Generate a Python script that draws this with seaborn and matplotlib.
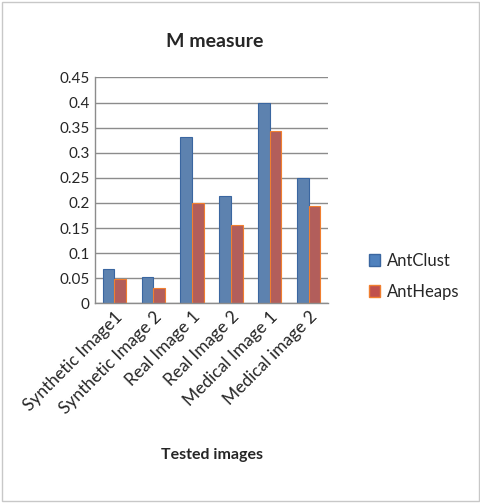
import pandas as pd
import seaborn as sns
import matplotlib.pyplot as plt
from matplotlib.patches import Rectangle

images = ['Synthetic Image1', 'Synthetic Image 2', 'Real Image 1',
          'Real Image 2', 'Medical Image 1', 'Medical image 2']
antclust = [0.068, 0.053, 0.332, 0.213, 0.400, 0.250]
antheaps = [0.049, 0.030, 0.200, 0.157, 0.344, 0.194]
methods = ['AntClust', 'AntHeaps']
yticks = [0, 0.05, 0.1, 0.15, 0.2, 0.25, 0.3, 0.35, 0.4, 0.45]
ytick_labels = ['0', '0.05', '0.1', '0.15', '0.2', '0.25', '0.3', '0.35', '0.4', '0.45']

df = pd.DataFrame({
    'image': images * 2,
    'value': antclust + antheaps,
    'method': [methods[0]] * len(images) + [methods[1]] * len(images),
})

sns.set_style('white')
plt.rcParams['font.family'] = ['Lato', 'DejaVu Sans']

fig = plt.figure(figsize=(4.81, 5.03), dpi=100)
ax = fig.add_axes([0.1975, 0.397, 0.4845, 0.449])

sns.barplot(data=df, x='image', y='value', hue='method', order=images,
            hue_order=methods, palette=['#4F81BD', '#C0504D'], width=0.6,
            ax=ax, legend=False)

edges = {0: '#3A66A0', 1: '#F07F30'}
for i, cont in enumerate(ax.containers):
    for bar in cont:
        bar.set_edgecolor(edges[i])
        bar.set_linewidth(0.8)

ax.set_ylim(0, 0.45)
ax.set_yticks(yticks)
ax.set_yticklabels(ytick_labels, fontsize=11)
ax.yaxis.grid(True, color='#8C8C8C', linewidth=1)
ax.set_axisbelow(True)
ax.tick_params(length=0, pad=4)
ax.set_xticks(range(len(images)))
ax.set_xticklabels(images, rotation=45, ha='right', rotation_mode='anchor', fontsize=12.5)
for s in ['top', 'right']:
    ax.spines[s].set_visible(False)
for s in ['left', 'bottom']:
    ax.spines[s].set_color('#8C8C8C')
    ax.spines[s].set_linewidth(1)
ax.set_xlabel('')
ax.set_ylabel('')

fig.text(0.447, 0.918, 'M measure', ha='center', va='center', fontsize=14, fontweight='bold')
fig.text(0.44, 0.095, 'Tested images', ha='center', va='center', fontsize=11.5, fontweight='bold')

handles = [Rectangle((0, 0), 1, 1, facecolor='#4F81BD', edgecolor=edges[0]),
           Rectangle((0, 0), 1, 1, facecolor='#C0504D', edgecolor=edges[1])]
fig.legend(handles, methods, loc='center left', bbox_to_anchor=(0.735, 0.45),
           frameon=False, fontsize=12, handlelength=0.7, handleheight=0.7,
           labelspacing=0.9, handletextpad=0.4)

fig.patches.append(Rectangle((0.004, 0.004), 0.992, 0.992, transform=fig.transFigure,
                             fill=False, edgecolor='#C8C8C8', linewidth=1))

fig.savefig('out.png', dpi=100)
